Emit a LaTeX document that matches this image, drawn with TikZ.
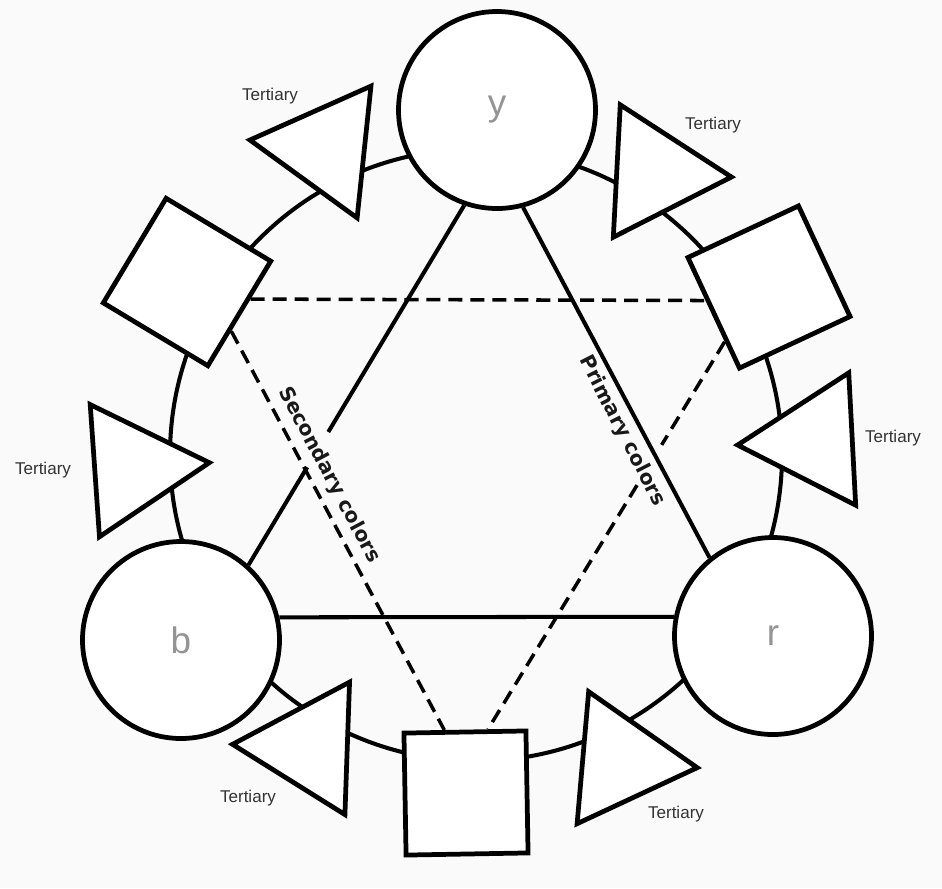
\documentclass[tikz,border=0pt]{standalone}
\usepackage{fontspec}
\setmainfont{Liberation Sans}
\newfontfamily\wheelfont{DejaVu Sans}
\usetikzlibrary{shapes.geometric,calc}

\begin{document}
\begin{tikzpicture}[x=0.2mm,y=-0.2mm,
  primary/.style={circle,draw,line width=2.7pt,fill=white,inner sep=0pt,
    minimum size=39.4mm,text=black!42,font=\fontsize{21}{24}\selectfont},
  secondary/.style={rectangle,draw,line width=2.7pt,fill=white,inner sep=0pt,
    minimum size=24.4mm},
  tertiary/.style={regular polygon,regular polygon sides=3,draw,line width=2.7pt,
    fill=white,inner sep=0pt,minimum size=30.6mm},
  tlabel/.style={text=black!80,font=\fontsize{9.7}{11}\selectfont},
  pline/.style={line width=2.3pt},
  sline/.style={line width=2pt,dash pattern=on 8pt off 4.5pt},
  axislabel/.style={text=black!90,font=\wheelfont\bfseries\fontsize{11.5}{14}\selectfont}]
  \fill[black!2] (0,0) rectangle (942,888);
  \draw[line width=2.3pt] (476,455) circle [radius=61.2mm];

  \node[primary] (y) at (497,110) {y};
  \node[primary] (b) at (181,640) {b};
  \node[primary] (r) at (773,636) {r};

  \node[secondary,rotate=-31] (sqL) at (187,282) {};
  \node[secondary,rotate=25] (sqR) at (769,287) {};
  \node[secondary,rotate=1] (sqB) at (466,793) {};

  \node[tertiary,rotate=84] (t1) at (326,148) {};
  \node[tertiary,rotate=-93] (t2) at (655,173) {};
  \node[tertiary,rotate=-86] (t3) at (133,468) {};
  \node[tertiary,rotate=93] (t4) at (814,441) {};
  \node[tertiary,rotate=88] (t5) at (309,747) {};
  \node[tertiary,rotate=-95] (t6) at (621,761) {};

  \node[tlabel] (lt1) at (270,96) {Tertiary};
  \node[tlabel] (lt2) at (713,125) {Tertiary};
  \node[tlabel] (lt3) at (43,470) {Tertiary};
  \node[tlabel] (lt4) at (893,438) {Tertiary};
  \node[tlabel] (lt5) at (248,798) {Tertiary};
  \node[tlabel] (lt6) at (676,814) {Tertiary};

  % primary triangle, broken where the dashed edge crosses
  \draw[pline] (y.251) -- ($(y.251)!0.63!(b.48)$);
  \draw[pline] ($(y.251)!0.728!(b.48)$) -- (b.48);
  \draw[pline] (y.285) -- (r.129);
  \draw[pline] (b.13) -- (r.169);

  \draw[sline] (sqL.16) -- (sqR.167);
  \draw[sline] (sqL.-17) -- (sqB.108);
  \draw[sline] (sqR.206) -- ($(sqR.206)!0.266!(sqB.70)$);
  \draw[sline] ($(sqR.206)!0.37!(sqB.70)$) -- (sqB.70);

  \node[axislabel,rotate=-62] (sec) at (329,475) {Secondary colors};
  \node[axislabel,rotate=-63] (pri) at (622,431) {Primary colors};
\end{tikzpicture}
\end{document}
